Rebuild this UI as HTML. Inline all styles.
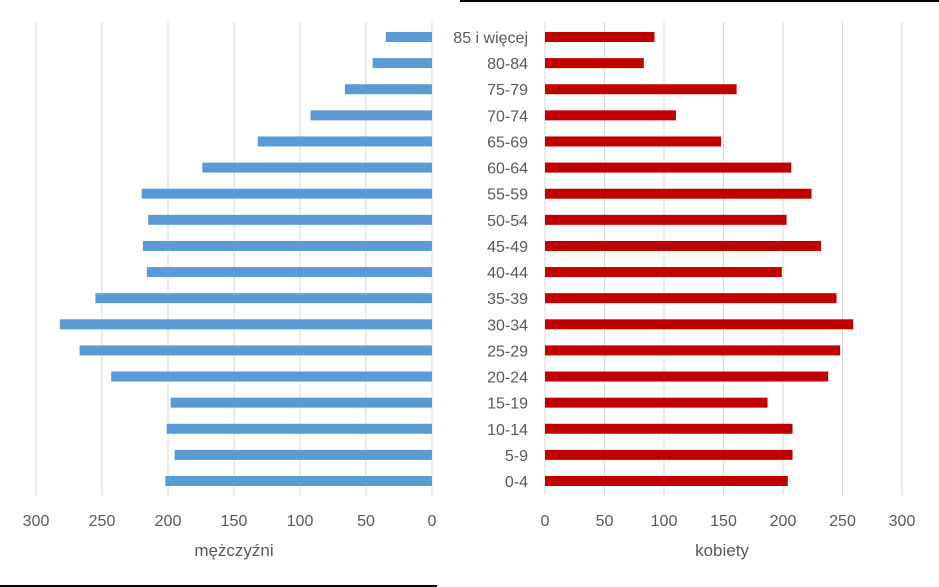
<!DOCTYPE html>
<html><head><meta charset="utf-8"><style>
html,body{margin:0;padding:0;background:#fff;}
svg{display:block;font-family:"Liberation Sans",sans-serif;}
</style></head><body>
<svg id="chart" width="939" height="587" viewBox="0 0 939 587">
<line x1="460" y1="1" x2="939" y2="1" stroke="#000" stroke-width="2"/>
<line x1="0" y1="586" x2="437" y2="586" stroke="#000" stroke-width="2"/>
<g id="grid"></g><g id="bars"></g><g id="labels"></g>
<text x="234" y="556" text-anchor="middle" font-size="17" fill="#595959">mężczyźni</text>
<text x="722" y="556" text-anchor="middle" font-size="17" fill="#595959">kobiety</text>
</svg>
<script>
const categories=["85 i więcej","80-84","75-79","70-74","65-69","60-64","55-59","50-54","45-49","40-44","35-39","30-34","25-29","20-24","15-19","10-14","5-9","0-4"];
const menValues=[35,45,66,92,132,174,220,215,219,216,255,282,267,243,198,201,195,202];
const womenValues=[92,83,161,110,148,207,224,203,232,199,245,259,248,238,187,208,208,204];
const ticks=[0,50,100,150,200,250,300];
const NS="http://www.w3.org/2000/svg";
const xL=v=>432-v*(396/300);
const xR=v=>545+v*(357/300);
const yRow=i=>37+i*(444/17);
function mk(tag,attrs,parent){const e=document.createElementNS(NS,tag);for(const k in attrs)e.setAttribute(k,attrs[k]);parent.appendChild(e);return e;}
const grid=document.getElementById('grid'),bars=document.getElementById('bars'),labels=document.getElementById('labels');
ticks.forEach(t=>{
  let g=mk('line',{x1:xL(t),x2:xL(t),y1:22,y2:495,stroke:'#d9d9d9','stroke-width':1},grid);
  
  
  let g2=mk('line',{x1:xR(t),x2:xR(t),y1:22,y2:495,stroke:'#d9d9d9','stroke-width':1},grid);
  
  
  let a=mk('text',{x:xL(t),y:526,'text-anchor':'middle','font-size':16,fill:'#595959'},labels);a.textContent=t;
  
  
  let b=mk('text',{x:xR(t),y:526,'text-anchor':'middle','font-size':16,fill:'#595959'},labels);b.textContent=t;
  
  
});
categories.forEach((c,i)=>{
  const y=yRow(i);
  let m=mk('rect',{x:xL(menValues[i]),y:y-5,width:xL(0)-xL(menValues[i]),height:10,fill:'#5b9bd5'},bars);
  
  
  let w=mk('rect',{x:xR(0),y:y-5,width:xR(womenValues[i])-xR(0),height:10,fill:'#c00000'},bars);
  
  
  let l=mk('text',{x:528,y:y+6,'text-anchor':'end','font-size':16,fill:'#595959'},labels);l.textContent=c;
  
  
});
</script>
</body></html>
